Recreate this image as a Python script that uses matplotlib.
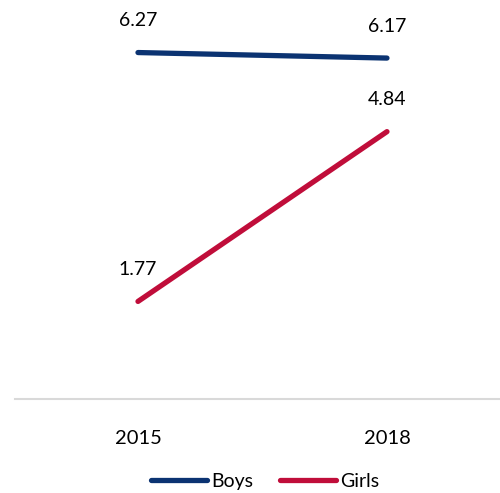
import matplotlib
matplotlib.use("Agg")
import matplotlib.pyplot as plt

years = ["2015", "2018"]
boys = [6.27, 6.17]
girls = [1.77, 4.84]

BOYS_COLOR = "#0B3372"
GIRLS_COLOR = "#C00D3A"

plt.rcParams["font.family"] = ["Lato", "DejaVu Sans"]

fig = plt.figure(figsize=(5.0, 4.93), dpi=100)
ax = fig.add_axes([0.03, 0.19, 0.97, 0.81])

x = list(range(len(years)))
for vals, color, name in [(boys, BOYS_COLOR, "Boys"), (girls, GIRLS_COLOR, "Girls")]:
    ax.plot(x, vals, color=color, lw=3.8, solid_capstyle="round", label=name)
    for xi, v in zip(x, vals):
        ax.annotate(f"{v:.2f}", (xi, v), xytext=(0, 23), textcoords="offset points",
                    ha="center", va="center", fontsize=14, color="black")

ax.set_xlim(-0.494, 1.454)
ax.set_ylim(0, 7.22)
ax.set_xticks(x)
ax.set_xticklabels(years, fontsize=14.5)
ax.tick_params(axis="x", length=0, pad=22)
ax.set_yticks([])
for side in ["top", "right", "left"]:
    ax.spines[side].set_visible(False)
ax.spines["bottom"].set_color("#D9D9D9")
ax.spines["bottom"].set_linewidth(1.5)

fig.legend(loc="center", bbox_to_anchor=(0.53, 0.024), ncol=2, frameon=False,
           fontsize=14, handlelength=2.9, handletextpad=0.2, columnspacing=1.4)

fig.savefig("out.png", dpi=100)
